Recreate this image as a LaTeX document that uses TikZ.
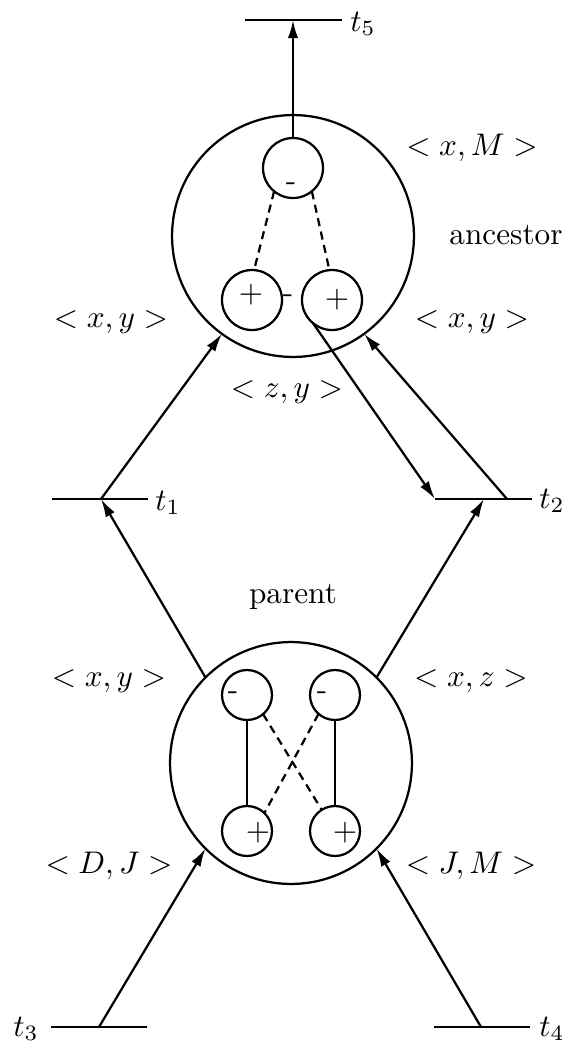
\documentclass[tikz,border=0pt]{standalone}
\usetikzlibrary{arrows.meta}
\begin{document}
\begin{tikzpicture}[x=0.32pt,y=-0.32pt, line width=0.72pt,
  big/.style={circle,draw,minimum size=77.4pt,inner sep=0pt,outer sep=0pt},
  asm/.style={circle,draw,minimum size=19.2pt,inner sep=0pt,outer sep=0pt},
  psm/.style={circle,draw,minimum size=16pt,inner sep=0pt,outer sep=0pt},
  lbl/.style={inner sep=0pt},
  sgn/.style={inner sep=0pt},
  arr/.style={-{Latex[length=5.8pt,width=3.3pt]}},
  dsh/.style={dash pattern=on 2.6pt off 1.8pt}]
\useasboundingbox (0,0) rectangle (566,1047);

% ancestor
\node[big] (anc) at (293,236) {};
\node[asm] (aT) at (293,168) {};
\node[asm] (aL) at (252,300) {};
\node[asm] (aR) at (332,300) {};
\node[sgn] (aTs) at (291,187) {-};
\node[sgn] (aLs) at (251,295) {$+$};
\node[sgn] (aRs) at (337,300) {$+$};
\node[sgn] (aMs) at (288,299) {-};
\draw[dsh] (aT.231) -- (aL.86);
\draw[dsh] (aT.309) -- (aR.95);

% parent
\node[big] (par) at (291,763) {};
\node[psm] (pTL) at (247,695) {};
\node[psm] (pTR) at (335,695) {};
\node[psm] (pBL) at (247,831) {};
\node[psm] (pBR) at (335,831) {};
\node[sgn] (pTLs) at (233,696) {-};
\node[sgn] (pTRs) at (322,696) {-};
\node[sgn] (pBLs) at (258,833) {$+$};
\node[sgn] (pBRs) at (345,833) {$+$};
\draw (pTL) -- (pBL);
\draw (pTR) -- (pBR);
\draw[dsh] (pTL.310) -- (pBR.122);
\draw[dsh] (pTR.229) -- (pBL.46);

% t lines
\coordinate (t5a) at (245,20);  \coordinate (t5b) at (342,20);  \coordinate (t5m) at (293,20);
\coordinate (t1a) at (52,499);  \coordinate (t1b) at (148,499); \coordinate (t1m) at (101,499);
\coordinate (t2a) at (435,499); \coordinate (t2b) at (532,499); \coordinate (t2p) at (484,499); \coordinate (t2r) at (507,499);
\coordinate (t3a) at (51,1027); \coordinate (t3b) at (147,1027); \coordinate (t3m) at (99,1027);
\coordinate (t4a) at (434,1027); \coordinate (t4b) at (530,1027); \coordinate (t4m) at (481,1027);
\draw (t5a) -- (t5b);
\draw (t1a) -- (t1b);
\draw (t2a) -- (t2b);
\draw (t3a) -- (t3b);
\draw (t4a) -- (t4b);

% arrows
\draw[arr] (aT) -- (t5m);
\draw[arr] (par.135) -- (t1m);
\draw[arr] (par.45) -- (t2p);
\draw[arr] (t3m) -- (par.225);
\draw[arr] (t4m) -- (par.315);
\draw[arr] (t1m) -- (anc.234);
\draw[arr] (t2r) -- (anc.306);
\draw[arr] (aR.231) -- (t2a);

% labels
\node[lbl] (lt5) at (363,24) {$t_5$};
\node[lbl] (lt1) at (168,503) {$t_1$};
\node[lbl] (lt2) at (552,501) {$t_2$};
\node[lbl] (lt3) at (26,1029) {$t_3$};
\node[lbl] (lt4) at (552,1029) {$t_4$};
\node[lbl] (lxM) at (472,148) {$<x,M>$};
\node[lbl] (lanc) at (506,235) {ancestor};
\node[lbl] (lxy1) at (111,322) {$<x,y>$};
\node[lbl] (lxy2) at (472,322) {$<x,y>$};
\node[lbl] (lzy) at (287,392) {$<z,y>$};
\node[lbl] (lpar) at (293,597) {parent};
\node[lbl] (lxy3) at (109,681) {$<x,y>$};
\node[lbl] (lxz) at (471,681) {$<x,z>$};
\node[lbl] (lDJ) at (109,866) {$<D,J>$};
\node[lbl] (lJM) at (471,866) {$<J,M>$};
\end{tikzpicture}
\end{document}
